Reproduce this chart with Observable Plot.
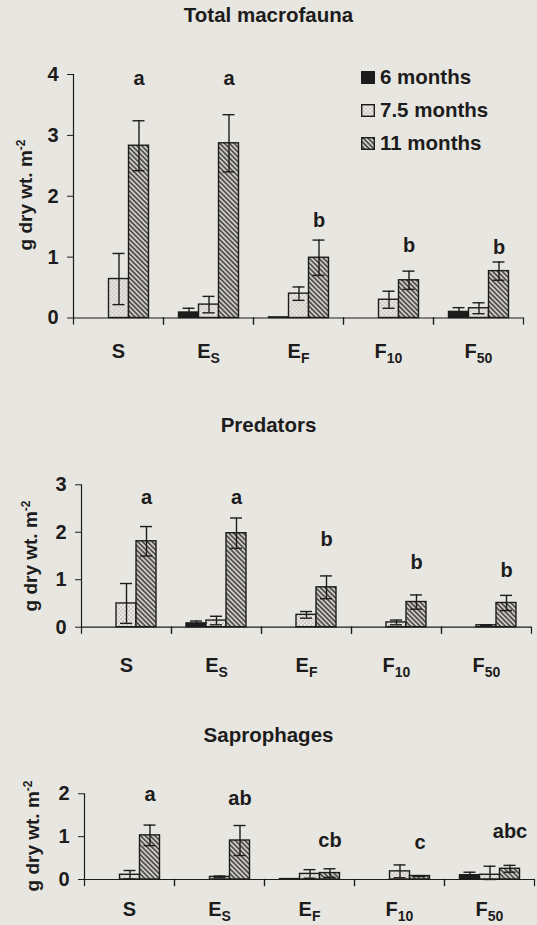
<!DOCTYPE html>
<html>
<head>
<meta charset="utf-8">
<script src="https://cdn.jsdelivr.net/npm/d3@7"></script>
<script src="https://cdn.jsdelivr.net/npm/@observablehq/plot@0.6"></script>
<style>
  body { margin:0; background:#e8e6e0; width:537px; height:925px; position:relative; overflow:hidden;
         font-family:"Liberation Sans", Arial, Helvetica, sans-serif; color:#1c1c1c; }
  .title { position:absolute; left:0; width:537px; text-align:center; font-weight:bold; font-size:20.5px; line-height:22px; }
  .ylab { position:absolute; white-space:nowrap; font-weight:bold; font-size:19px; line-height:20px;
          transform:translate(-50%,-50%) rotate(-90deg); }
  .ylab sup { font-size:12px; vertical-align:7px; line-height:0; }
  .panel { position:absolute; left:0; }
  .legend { position:absolute; left:361px; top:0; font-size:20.5px; font-weight:bold; }
  .legend .row { position:absolute; left:0; white-space:nowrap; display:flex; align-items:center; height:20px; }
  .legend svg { margin-right:5px; }
</style>
</head>
<body>
<svg width="0" height="0" style="position:absolute">
  <defs>
    <pattern id="dots" patternUnits="userSpaceOnUse" width="4" height="4">
      <rect width="4" height="4" fill="#ebe8e3"></rect>
      <circle cx="1" cy="1" r="0.65" fill="#9a9893"></circle>
      <circle cx="3" cy="3" r="0.65" fill="#9a9893"></circle>
    </pattern>
    <pattern id="hatch" patternUnits="userSpaceOnUse" width="3.4" height="10" patternTransform="rotate(-45)">
      <rect width="3.4" height="10" fill="#cfcbc5"></rect>
      <line x1="0.8" y1="0" x2="0.8" y2="10" stroke="#2a2a2a" stroke-width="1.3"></line>
    </pattern>
  </defs>
</svg>

<div class="title" style="top:4px">Total macrofauna</div>
<div class="title" style="top:414px">Predators</div>
<div class="title" style="top:724px">Saprophages</div>

<div class="ylab" style="left:26px; top:195px">g dry wt. m<sup>-2</sup></div>
<div class="ylab" style="left:31px; top:556px">g dry wt. m<sup>-2</sup></div>
<div class="ylab" style="left:33px; top:836px">g dry wt. m<sup>-2</sup></div>

<div id="p1" class="panel" style="top:50px"></div>
<div id="p2" class="panel" style="top:460px"></div>
<div id="p3" class="panel" style="top:770px"></div>
<div id="legend" class="legend"></div>

<script>
// ---------- data ----------
const categories = ["S", "ES", "EF", "F10", "F50"];
const catMain = ["S", "E", "E", "F", "F"];
const catSub  = ["", "S", "F", "10", "50"];
const series = ["6 months", "7.5 months", "11 months"];

// Total macrofauna
const total6      = [0.00, 0.09, 0.01, 0.00, 0.10];
const total6Err   = [0.00, 0.07, 0.00, 0.00, 0.07];
const total75     = [0.64, 0.22, 0.40, 0.30, 0.16];
const total75Err  = [0.42, 0.135, 0.11, 0.14, 0.09];
const total11     = [2.83, 2.87, 0.99, 0.62, 0.77];
const total11Err  = [0.41, 0.47, 0.29, 0.15, 0.15];
const totalLetters = ["a", "a", "b", "b", "b"];
const totalLetterY = [3.93, 3.93, 1.60, 1.19, 1.15];

// Predators
const pred6      = [0.00, 0.08, 0.00, 0.00, 0.00];
const pred6Err   = [0.00, 0.05, 0.00, 0.00, 0.00];
const pred75     = [0.50, 0.14, 0.26, 0.10, 0.04];
const pred75Err  = [0.42, 0.09, 0.07, 0.05, 0.01];
const pred11     = [1.81, 1.98, 0.84, 0.53, 0.51];
const pred11Err  = [0.31, 0.32, 0.24, 0.15, 0.16];
const predLetters = ["a", "a", "b", "b", "b"];
const predLetterY = [2.74, 2.74, 1.84, 1.36, 1.19];

// Saprophages
const sap6      = [0.00, 0.00, 0.01, 0.00, 0.10];
const sap6Err   = [0.00, 0.00, 0.00, 0.00, 0.07];
const sap75     = [0.11, 0.06, 0.13, 0.19, 0.11];
const sap75Err  = [0.10, 0.02, 0.10, 0.15, 0.20];
const sap11     = [1.03, 0.91, 0.15, 0.08, 0.25];
const sap11Err  = [0.24, 0.35, 0.10, 0.01, 0.08];
const sapLetters = ["a", "ab", "cb", "c", "abc"];
const sapLetterY = [1.98, 1.88, 0.91, 0.87, 1.11];

// ---------- styles ----------
const ink = "#1c1c1c";
const fills = [ink, "url(#dots)", "url(#hatch)"];
const FONT = "Liberation Sans, Arial, Helvetica, sans-serif";

function makePanel(cfg) {
  const vals = [cfg.v6, cfg.v75, cfg.v11];
  const errs = [cfg.e6, cfg.e75, cfg.e11];
  const rows = categories.flatMap((c, i) =>
    series.map((s, j) => ({cat: c, series: s, value: vals[j][i], err: errs[j][i]})));
  const errRows = rows.filter(d => d.err > 0);
  const letterRows = categories.map((c, i) => ({cat: c, letter: cfg.letters[i], y: cfg.letterY[i]}));
  const H = cfg.marginTop + cfg.innerH + cfg.marginBottom;

  const svg = Plot.plot({
    width: 537,
    height: H,
    marginLeft: cfg.marginLeft,
    marginRight: cfg.marginRight,
    marginTop: cfg.marginTop,
    marginBottom: cfg.marginBottom,
    style: {background: "transparent", fontFamily: FONT, color: ink, overflow: "visible"},
    fx: {domain: categories, padding: 0, label: null},
    x: {domain: series, paddingInner: 0, paddingOuter: 0.72, axis: null},
    y: {domain: [0, cfg.yMax], axis: null},
    color: {domain: series, range: fills},
    marks: [
      Plot.ruleY([0], {stroke: ink, strokeWidth: 1.2}),
      Plot.frame({anchor: "left", facetAnchor: "left", stroke: ink, strokeWidth: 1.2}),
      Plot.frame({anchor: "left", insetTop: cfg.innerH, insetBottom: -6, stroke: ink, strokeWidth: 1.2}),
      Plot.frame({anchor: "right", insetTop: cfg.innerH, insetBottom: -6, stroke: ink, strokeWidth: 1.2}),
      Plot.barY(rows, {fx: "cat", x: "series", y: "value", fill: "series", stroke: ink, strokeWidth: 1.4}),
      Plot.ruleX(errRows, {fx: "cat", x: "series", y1: d => Math.max(0, d.value - d.err), y2: d => d.value + d.err, stroke: ink, strokeWidth: 1.4}),
      Plot.tickY(errRows, {fx: "cat", x: "series", y: d => d.value + d.err, insetLeft: 4, insetRight: 4, stroke: ink, strokeWidth: 1.4}),
      Plot.tickY(errRows, {fx: "cat", x: "series", y: d => Math.max(0, d.value - d.err), insetLeft: 4, insetRight: 4, stroke: ink, strokeWidth: 1.4}),
      Plot.text(letterRows, {fx: "cat", x: () => series[2], y: "y", text: "letter", fontSize: 20, fontWeight: "bold", fill: ink}),
      Plot.axisY({ticks: d3.range(0, cfg.yMax + 1), tickFormat: d => String(d), tickSize: 6, tickPadding: 9,
                  fontSize: 20, fontWeight: "bold", label: null, stroke: ink}),
      Plot.axisFx({anchor: "bottom", tickSize: 0, tickPadding: cfg.tickPad, fontSize: 20, fontWeight: "bold", label: null})
    ]
  });

  // subscripts for category labels
  svg.querySelectorAll('[aria-label="fx-axis tick label"] text').forEach(t => {
    const i = categories.indexOf(t.textContent);
    if (i < 0) return;
    t.textContent = catMain[i];
    if (catSub[i]) {
      const ts = document.createElementNS("http://www.w3.org/2000/svg", "tspan");
      ts.setAttribute("font-size", "14");
      ts.setAttribute("dy", "5");
      ts.textContent = catSub[i];
      t.appendChild(ts);
    }
  });
  document.getElementById(cfg.id).appendChild(svg);
}

makePanel({id: "p1", v6: total6, e6: total6Err, v75: total75, e75: total75Err, v11: total11, e11: total11Err,
  letters: totalLetters, letterY: totalLetterY, yMax: 4,
  marginLeft: 71.5, marginRight: 12.7, marginTop: 24, innerH: 243.5, marginBottom: 47, tickPad: 25.5});
makePanel({id: "p2", v6: pred6, e6: pred6Err, v75: pred75, e75: pred75Err, v11: pred11, e11: pred11Err,
  letters: predLetters, letterY: predLetterY, yMax: 3,
  marginLeft: 79, marginRight: 5, marginTop: 24.3, innerH: 142.4, marginBottom: 55, tickPad: 31});
makePanel({id: "p3", v6: sap6, e6: sap6Err, v75: sap75, e75: sap75Err, v11: sap11, e11: sap11Err,
  letters: sapLetters, letterY: sapLetterY, yMax: 2,
  marginLeft: 82.5, marginRight: 1, marginTop: 23.3, innerH: 85.7, marginBottom: 46, tickPad: 22.5});

// legend
const legend = document.getElementById("legend");
const rowCenters = [77, 110, 143];
series.forEach((s, j) => {
  const row = document.createElement("div");
  row.className = "row";
  row.style.top = (rowCenters[j] - 10) + "px";
  row.innerHTML = `<svg width="14" height="13"><rect x="0.7" y="0.7" width="12.6" height="11.6" fill="${fills[j]}" stroke="${ink}" stroke-width="1.4"></rect></svg><span>${s}</span>`;
  legend.appendChild(row);
});
</script>
</body>
</html>
